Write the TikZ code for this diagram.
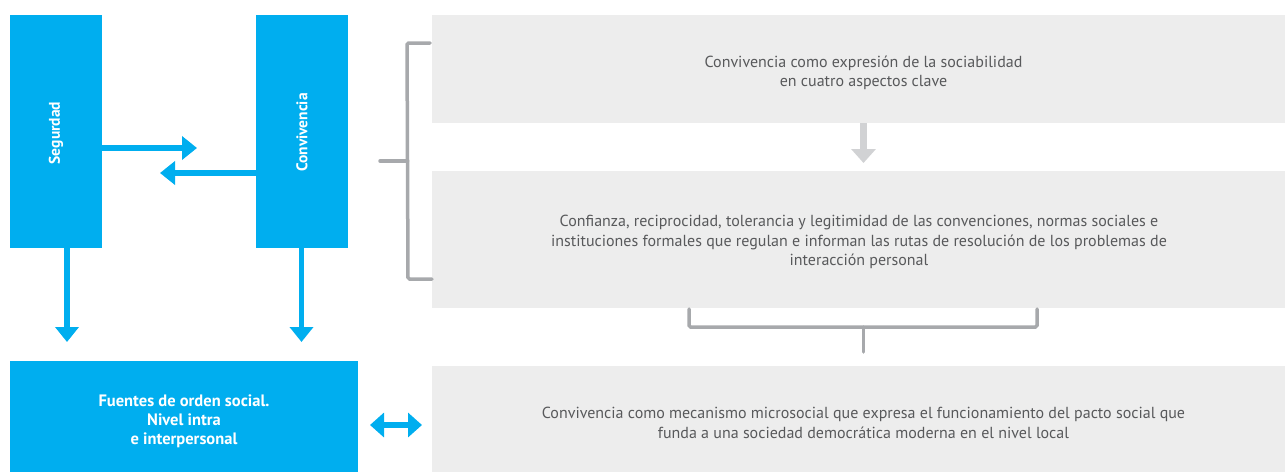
\documentclass[tikz,border=0pt]{standalone}
\usepackage{fontspec}
\setmainfont{PT Sans}
\usetikzlibrary{arrows.meta}
\definecolor{cblue}{HTML}{00AEEF}
\definecolor{cgraybox}{HTML}{EDEDED}
\definecolor{cbracket}{HTML}{A7A9AC}
\definecolor{carrowgray}{HTML}{D1D2D4}
\definecolor{ctext}{HTML}{58595B}
\tikzset{
  bluebox/.style={fill=cblue, inner sep=0pt},
  bluetext/.style={text=white, font=\fontsize{16.5}{19}\selectfont\bfseries, align=center, inner sep=0pt},
  graybox/.style={fill=cgraybox, inner sep=0pt, minimum width=853pt},
  graytext/.style={text=ctext, font=\fontsize{16}{19.5}\selectfont, align=center, inner sep=0pt},
  bluearrow/.style={draw=cblue, line width=5.5pt, -{Triangle[length=15pt,width=23pt]}},
  dblarrow/.style={draw=cblue, line width=5.5pt, {Triangle[length=14pt,width=24pt]}-{Triangle[length=14pt,width=24pt]}},
  grayarrow/.style={draw=carrowgray, line width=7pt, -{Triangle[length=14pt,width=24pt]}},
  bracketline/.style={draw=cbracket, line width=3.5pt, line cap=round, rounded corners=1.5pt}
}
\begin{document}
\begin{tikzpicture}[x=1pt,y=-1pt]
\useasboundingbox (0,0) rectangle (1285,472);
% blue boxes
\node[bluebox, minimum width=92pt, minimum height=233pt] (seg) at (56,131.5) {};
\node[bluetext, font=\fontsize{15.5}{19}\selectfont\bfseries, rotate=90] (segt) at (56,133) {Segurdad};
\node[bluebox, minimum width=92pt, minimum height=233pt] (conv) at (302,131.5) {};
\node[bluetext, font=\fontsize{15.5}{19}\selectfont\bfseries, rotate=90] (convt) at (302,132.5) {Convivencia};
\node[bluebox, minimum width=348pt, minimum height=111pt] (fuentes) at (184,416.5) {};
\node[bluetext] (fuentest) at (184,421) {Fuentes de orden social.\\Nivel intra\\e interpersonal};
% gray boxes
\node[graybox, minimum height=108pt] (g1) at (858.5,69) {};
\node[graytext] (g1t) at (863.5,73) {Convivencia como expresión de la sociabilidad\\en cuatro aspectos clave};
\node[graybox, minimum height=137pt] (g2) at (858.5,239.5) {};
\node[graytext] (g2t) at (859,242) {Confianza, reciprocidad, tolerancia y legitimidad de las convenciones, normas sociales e\\instituciones formales que regulan e informan las rutas de resolución de los problemas de\\interacción personal};
\node[graybox, minimum height=106pt] (g3) at (858.5,419) {};
\node[graytext] (g3t) at (863.5,423) {Convivencia como mecanismo microsocial que expresa el funcionamiento del pacto social que\\funda a una sociedad democrática moderna en el nivel local};
% horizontal arrows between blue boxes
\coordinate (a1) at (197,148);
\coordinate (a2) at (160,173);
\draw[bluearrow] (seg.east |- a1) -- (a1);
\draw[bluearrow] (conv.west |- a2) -- (a2);
% down arrows
\coordinate (d1) at (67,342);
\coordinate (d2) at (301.5,342);
\draw[bluearrow] (seg.south -| d1) -- (d1);
\draw[bluearrow] (conv.south -| d2) -- (d2);
% double arrow
\coordinate (e1) at (370,425);
\coordinate (e2) at (422,425);
\draw[dblarrow] (e1) -- (e2);
% gray arrow
\coordinate (ga) at (863.5,163);
\draw[grayarrow] (g1.south -| ga) -- (ga);
% left bracket
\coordinate (b1) at (430,43);
\coordinate (b2) at (432,279);
\coordinate (bm) at (380,161);
\draw[bracketline] (b1) -- (407,43) -- (408,279) -- (b2);
\draw[bracketline] (bm) -- (407.5,161);
% bottom bracket
\coordinate (c1) at (689,309);
\coordinate (c2) at (1037,309);
\coordinate (cm) at (863.5,352);
\draw[bracketline] (c1) -- (689,327) -- (1037,327) -- (c2);
\draw[bracketline] (863.5,327) -- (cm);
\end{tikzpicture}
\end{document}
